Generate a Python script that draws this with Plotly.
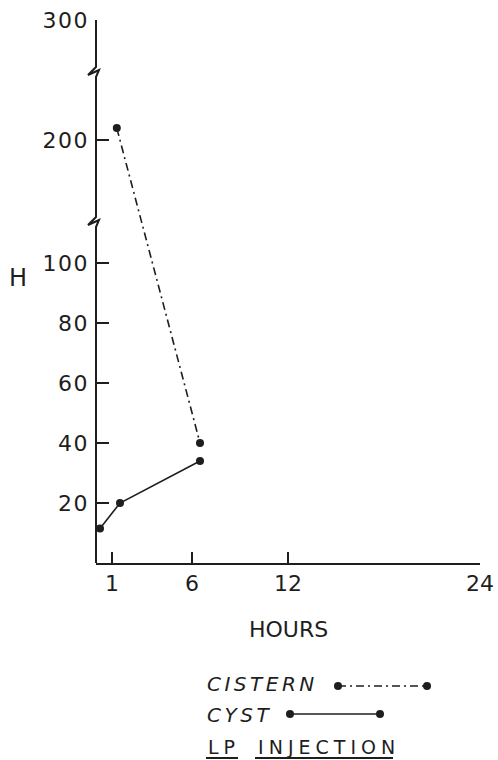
import plotly.graph_objects as go

# data (H vs hours after LP injection)
cistern_hours = [1.3, 6.5]
cistern_h = [210, 40]
cyst_hours = [0.25, 1.5, 6.5]
cyst_h = [11.5, 20, 34]

x_ticks = [1, 6, 12, 24]
y_ticks = [20, 40, 60, 80, 100, 200, 300]

INK = "#1e1e1e"
FONT = "DejaVu Sans"

# page geometry in window pixels (body margin is removed below)
W, H = 498, 760
AX_L, AX_R, AX_T, AX_B = 96, 480, 20, 563
L, R, T, B = AX_L, W - AX_R, AX_T, H - AX_B
PW, PH = AX_R - AX_L, AX_B - AX_T


def to_pos(v):
    # broken y scale: 0-100 linear, then 200-300 compressed above the break
    return v if v <= 100 else 141 + (v - 200) * 0.4


def px(x):
    return (x - AX_L) / PW


def py(y):
    return (AX_B - y) / PH


fig = go.Figure()

fig.add_trace(go.Scatter(
    x=cistern_hours, y=[to_pos(v) for v in cistern_h],
    mode="lines+markers", name="CISTERN",
    line=dict(color=INK, width=1.6, dash="8px,4px,2px,4px"),
    marker=dict(color=INK, size=8),
    cliponaxis=False, showlegend=False,
))
fig.add_trace(go.Scatter(
    x=cyst_hours, y=[to_pos(v) for v in cyst_h],
    mode="lines+markers", name="CYST",
    line=dict(color=INK, width=1.6),
    marker=dict(color=INK, size=8),
    cliponaxis=False, showlegend=False,
))

# y axis line with the two break marks
pts = [(96, 20), (96, 67), (88, 75), (99, 70), (96, 77),
       (96, 217), (88, 225), (99, 220), (96, 227), (96, 563)]
path = "M " + " L ".join(f"{px(a):.4f},{py(b):.4f}" for a, b in pts)
shapes = [dict(type="path", xref="paper", yref="paper", path=path,
               line=dict(color=INK, width=2))]


# legend samples
def sample(x0, x1, y, dash):
    out = [dict(type="line", xref="paper", yref="paper",
                x0=px(x0), x1=px(x1), y0=py(y), y1=py(y),
                line=dict(color=INK, width=1.6, dash=dash))]
    for xc in (x0, x1):
        out.append(dict(type="circle", xref="paper", yref="paper",
                        x0=px(xc - 4), x1=px(xc + 4), y0=py(y + 4), y1=py(y - 4),
                        fillcolor=INK, line=dict(color=INK, width=0)))
    return out


shapes += sample(338, 427, 686, "8px,4px,2px,4px")
shapes += sample(290, 380, 714, "solid")
# underlines for LP / INJECTION
for a, b in [(206, 238), (255, 393)]:
    shapes.append(dict(type="line", xref="paper", yref="paper",
                       x0=px(a), x1=px(b), y0=py(758), y1=py(758),
                       line=dict(color=INK, width=2)))

SP = "<span style='letter-spacing:{}px'>{}</span>"
ann = [
    dict(text="H", x=px(18), y=py(278), font=dict(size=24)),
    dict(text="HOURS", x=px(288), y=py(629), font=dict(size=22)),
    dict(text="<i>" + SP.format(3.5, "CISTERN") + "</i>",
         x=px(205), y=py(684), xanchor="left", font=dict(size=20)),
    dict(text="<i>" + SP.format(3.5, "CYST") + "</i>",
         x=px(205), y=py(715), xanchor="left", font=dict(size=20)),
    dict(text=SP.format(5, "LP") + SP.format(12, " ") + SP.format(5, "INJECTION"),
         x=px(206), y=py(747), xanchor="left", font=dict(size=19)),
]
for a in ann:
    a.update(xref="paper", yref="paper", showarrow=False)
    a.setdefault("xanchor", "center")
    a["yanchor"] = "middle"
    a["font"].update(family=FONT, color=INK)

fig.update_layout(
    width=W, height=H,
    margin=dict(l=L, r=R, t=T, b=B),
    paper_bgcolor="white", plot_bgcolor="white",
    font=dict(family=FONT, color=INK, size=22),
    shapes=shapes, annotations=ann,
    xaxis=dict(
        range=[0, 24], tickvals=x_ticks, ticktext=[str(t) for t in x_ticks],
        ticks="inside", ticklen=11, tickwidth=2, tickcolor=INK,
        showline=True, linewidth=2, linecolor=INK, automargin=False,
        showgrid=False, zeroline=False, ticklabelstandoff=0,
    ),
    yaxis=dict(
        range=[0, 181.05], tickvals=[to_pos(v) for v in y_ticks],
        ticktext=[SP.format(1.5, t) for t in y_ticks],
        ticks="inside", ticklen=13, tickwidth=2, tickcolor=INK,
        showline=False, showgrid=False, zeroline=False, automargin=False,
        ticklabelstandoff=6,
    ),
)

fig.write_html(
    "out.html",
    config={"displayModeBar": False},
    post_script="document.body.style.margin = '0px';",
)
